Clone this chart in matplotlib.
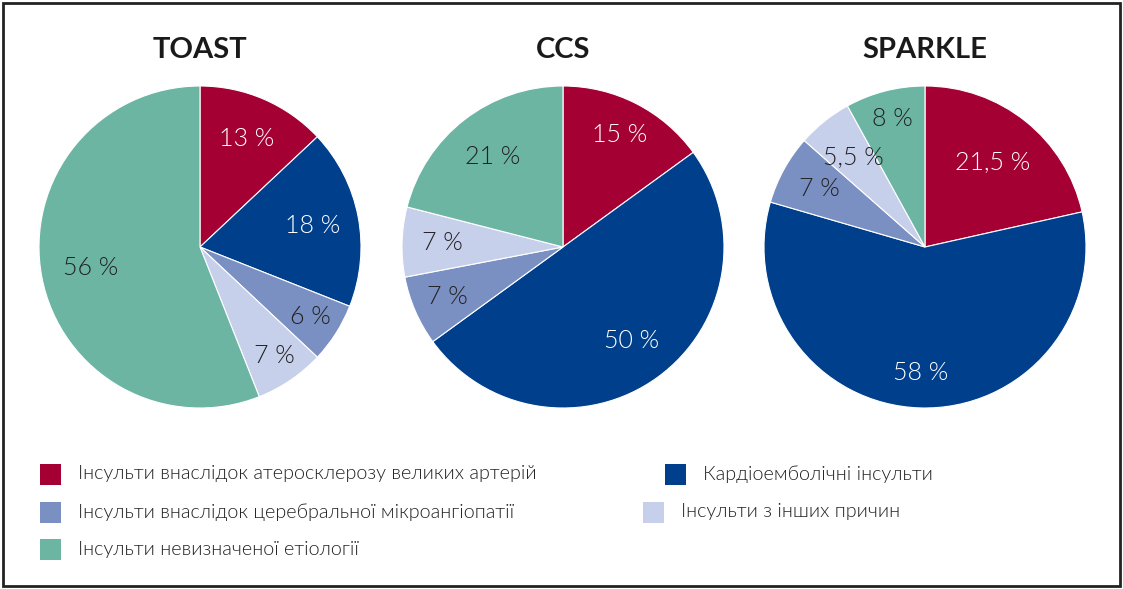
import matplotlib
matplotlib.use("Agg")
import matplotlib.pyplot as plt
import numpy as np
from matplotlib.patches import Rectangle

titles = ["TOAST", "CCS", "SPARKLE"]
toast = [13, 18, 6, 7, 56]
ccs = [15, 50, 7, 7, 21]
sparkle = [21.5, 58, 7, 5.5, 8]
toast_labels = ["13 %", "18 %", "6 %", "7 %", "56 %"]
ccs_labels = ["15 %", "50 %", "7 %", "7 %", "21 %"]
sparkle_labels = ["21,5 %", "58 %", "7 %", "5,5 %", "8 %"]
categories = [
    "Інсульти внаслідок атеросклерозу великих артерій",
    "Кардіоемболічні інсульти",
    "Інсульти внаслідок церебральної мікроангіопатії",
    "Інсульти з інших причин",
    "Інсульти невизначеної етіології",
]
colors = ["#A50034", "#003F8C", "#7A8FC2", "#C7D0EA", "#6DB5A3"]
text_colors = ["white", "white", "#222222", "#222222", "#222222"]
# radial label distances (fraction of radius) per slice
label_dist = [
    [0.73, 0.71, 0.81, 0.82, 0.69],
    [0.78, 0.72, 0.78, 0.75, 0.71],
    [0.67, 0.78, 0.75, 0.71, 0.82],
]

W, H = 1123, 589
fig = plt.figure(figsize=(W / 100, H / 100), dpi=100)
fig.patch.set_facecolor("white")

FONT = "Lato"
data = [toast, ccs, sparkle]
labels = [toast_labels, ccs_labels, sparkle_labels]
centers = [200, 563, 925]
R = 161
cy = 247

for cx, vals, labs, title, dists in zip(centers, data, labels, titles, label_dist):
    ax = fig.add_axes([(cx - R) / W, (H - cy - R) / H, 2 * R / W, 2 * R / H])
    wedges, _ = ax.pie(vals, colors=colors, startangle=90, counterclock=False,
                       wedgeprops=dict(linewidth=0.8, edgecolor="white"))
    for w, lab, c, d in zip(wedges, labs, text_colors, dists):
        ang = np.deg2rad((w.theta1 + w.theta2) / 2)
        ax.text(d * np.cos(ang), d * np.sin(ang), lab, ha="center", va="center",
                fontsize=18, family=FONT, fontweight=300, color=c)
    ax.set_aspect("equal")
    ax.set_xlim(-1, 1)
    ax.set_ylim(-1, 1)
    fig.text(cx / W, 1 - 50 / H, title, ha="center", va="center",
             fontsize=21, fontweight="bold", family=FONT, color="#1a1a1a")

# legend
items = [
    (40, 474, 0), (665, 474, 1),
    (40, 512, 2), (643, 512, 3),
    (40, 549, 4),
]
sq = 21
for x, y, i in items:
    fig.patches.append(Rectangle((x / W, 1 - (y + sq / 2) / H), sq / W, sq / H,
                                 transform=fig.transFigure, facecolor=colors[i],
                                 edgecolor="none"))
    fig.text((x + sq + 17) / W, 1 - y / H, categories[i], ha="left", va="center",
             fontsize=14.2, family=FONT, fontweight=300, color="#222222")

# border
fig.patches.append(Rectangle((3 / W, 3 / H), (W - 6) / W, (H - 6) / H,
                             transform=fig.transFigure, facecolor="none",
                             edgecolor="#222222", linewidth=2))

fig.savefig("out.png", dpi=100)
